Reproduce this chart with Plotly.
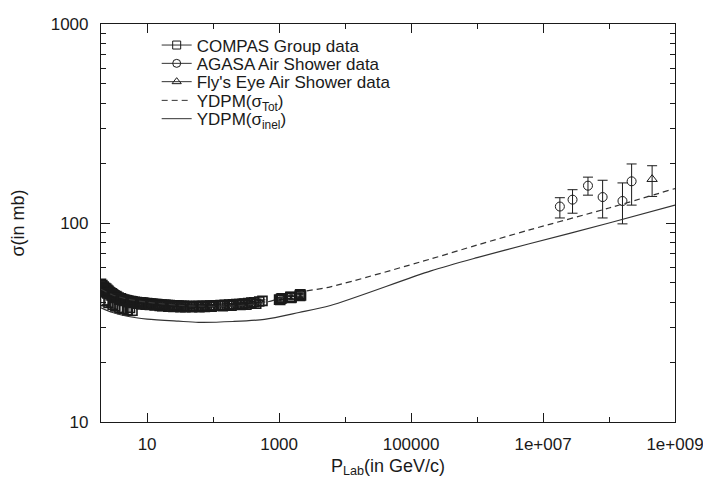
import plotly.graph_objects as go
import math

# ---------------- data ----------------
compas_p = [2.0, 2.0, 2.05, 2.1, 2.1, 2.2, 2.2, 2.3, 2.4, 2.4, 2.5, 2.6, 2.7, 2.8, 2.9,
            3.0, 3.1, 3.2, 3.4, 3.5, 3.7, 3.9, 4.0, 4.2, 4.5, 4.8, 5.0, 5.3, 5.7, 6.0,
            6.5, 7.0, 7.5, 8.0, 8.5, 9.0, 10.0, 10.7, 11.5, 12.3, 13.3, 14.2, 15.0, 16.5,
            18.0, 19.0, 20.5, 22.0, 24.0, 26.0, 28.0, 30.0, 33.0, 36.0, 40.0, 45.0, 50.0,
            56.0, 60.0, 66.0, 70.0, 80.0, 90.0, 100.0, 110.0, 120.0, 130.0, 150.0, 175.0,
            200.0, 225.0, 250.0, 280.0, 300.0, 340.0, 380.0, 420.0, 500.0, 560.0,
            1000.0, 1070.0, 1100.0, 1480.0, 1500.0, 1550.0, 2060.0, 2100.0, 2150.0,
            2.3, 2.6, 3.0, 3.3, 3.8, 4.2, 5.0, 5.5, 6.0,
            2.15, 2.5, 2.9, 3.3, 3.8, 4.4, 5.2, 6.2, 7.2, 8.2, 9.5, 11.0, 13.0, 15.5,
            17.0, 21.0, 25.0, 32.0, 38.0, 48.0, 62.0, 75.0, 95.0, 140.0, 190.0, 260.0,
            320.0, 450.0, 1040.0, 1520.0, 2080.0]
compas_sigma = [49.5, 47.0, 48.5, 48.8, 46.0, 48.0, 45.6, 47.2, 46.8, 45.0, 46.2, 45.6, 45.0, 44.6, 44.3,
                44.0, 43.6, 43.3, 42.9, 42.6, 42.2, 41.9, 41.8, 41.5, 41.3, 41.0, 40.9, 40.7, 40.5, 40.4,
                40.2, 40.1, 40.0, 39.9, 39.8, 39.7, 39.6, 39.5, 39.4, 39.3, 39.2, 39.1, 39.0, 38.9,
                38.8, 38.8, 38.7, 38.7, 38.6, 38.6, 38.5, 38.5, 38.4, 38.4, 38.3, 38.3, 38.2,
                38.3, 38.3, 38.3, 38.4, 38.4, 38.5, 38.5, 38.6, 38.6, 38.7, 38.8, 38.9,
                39.0, 39.1, 39.2, 39.3, 39.4, 39.6, 39.8, 40.0, 40.3, 40.6,
                41.2, 41.6, 41.9, 42.4, 42.6, 42.2, 43.4, 43.8, 43.2,
                40.5, 39.6, 38.8, 38.1, 37.4, 37.0, 36.4, 37.4, 36.2,
                46.8, 44.4, 43.2, 42.0, 41.2, 40.6, 40.0, 39.6, 39.3, 39.0, 38.9, 38.7, 38.5, 38.3,
                38.2, 38.0, 37.9, 37.8, 37.8, 37.7, 37.8, 37.9, 38.0, 38.2, 38.4, 38.7,
                38.9, 39.3, 41.0, 42.0, 43.0]
compas_err = [1.0, 1.0, 0.8, 0.8, 1.0, 0.8, 1.0, 0.8, 0.8, 1.0, 0.8, 0.8, 0.8, 0.7, 0.7,
              0.7, 0.7, 0.6, 0.6, 0.6, 0.6, 0.6, 0.6, 0.5, 0.5, 0.5, 0.5, 0.5, 0.5, 0.5,
              0.5, 0.5, 0.5, 0.5, 0.5, 0.5, 0.5, 0.5, 0.5, 0.5, 0.5, 0.5, 0.5, 0.5,
              0.5, 0.5, 0.5, 0.5, 0.5, 0.5, 0.5, 0.5, 0.5, 0.5, 0.5, 0.5, 0.5,
              0.5, 0.5, 0.5, 0.5, 0.5, 0.5, 0.5, 0.5, 0.5, 0.5, 0.5, 0.5,
              0.5, 0.5, 0.5, 0.5, 0.5, 0.5, 0.5, 0.5, 0.5, 0.5,
              0.6, 0.6, 0.6, 0.7, 0.7, 0.7, 0.8, 0.8, 0.8,
              1.5, 1.5, 1.5, 1.8, 1.8, 2.0, 2.0, 1.8, 2.0,
              0.8, 0.7, 0.6, 0.6, 0.6, 0.5, 0.5, 0.5, 0.5, 0.5, 0.5, 0.5, 0.5, 0.5,
              0.5, 0.5, 0.5, 0.5, 0.5, 0.5, 0.5, 0.5, 0.5, 0.5, 0.5, 0.5,
              0.5, 0.5, 0.6, 0.7, 0.8]

agasa_p = [1.8e7, 2.8e7, 4.8e7, 8.0e7, 1.6e8, 2.2e8]
agasa_sigma = [121, 131, 154, 135, 129, 162]
agasa_err_up = [13, 16, 16, 29, 30, 36]
agasa_err_down = [15, 19, 16, 29, 30, 39]

flyseye_p = [4.5e8]
flyseye_sigma = [166]
flyseye_err_up = [28]
flyseye_err_down = [30]

ydpm_p = [2, 3, 5, 10, 30, 60, 200, 600, 2000, 6000, 2e5, 1e6, 6e6, 1e8, 1e9]
ydpm_tot = [46.5, 43.5, 41.5, 40.0, 38.6, 38.2, 38.3, 39.8, 44.8, 47.8, 66.0, 77.5, 92.0, 119.0, 149.0]
ydpm_inel = [37.5, 35.5, 34.0, 32.9, 32.1, 31.7, 32.0, 32.8, 35.5, 38.5, 57.5, 67.0, 78.4, 100.0, 123.0]

x_tickvals = [10, 1e3, 1e5, 1e7, 1e9]
x_ticktext = ["10", "1000", "100000", "1e+007", "1e+009"]
x_minor = [100, 1e4, 1e6, 1e8]
y_tickvals = [10, 100, 1000]
y_ticktext = ["10", "100", "1000"]
y_minor = [20, 30, 40, 50, 60, 70, 80, 90, 200, 300, 400, 500, 600, 700, 800, 900]

legend_names = ["COMPAS Group data", "AGASA Air Shower data", "Fly's Eye Air Shower data",
                "YDPM(σ<sub>Tot</sub>)", "YDPM(σ<sub>inel</sub>)"]

# ---------------- figure ----------------
INK = "#1a1a1a"
FONT = "Liberation Sans, Arial, Helvetica, sans-serif"

fig = go.Figure()

fig.add_trace(go.Scatter(
    x=compas_p, y=compas_sigma, mode="markers", showlegend=False,
    marker=dict(symbol="square-open", size=9, color=INK, line=dict(width=1.6, color=INK)),
    error_y=dict(type="data", array=compas_err, color=INK, thickness=1, width=3)))
fig.add_trace(go.Scatter(
    x=agasa_p, y=agasa_sigma, mode="markers", showlegend=False,
    marker=dict(symbol="circle-open", size=9, color=INK, line=dict(width=1, color=INK)),
    error_y=dict(type="data", array=agasa_err_up, arrayminus=agasa_err_down,
                 color=INK, thickness=1, width=5)))
fig.add_trace(go.Scatter(
    x=flyseye_p, y=flyseye_sigma, mode="markers", showlegend=False,
    marker=dict(symbol="triangle-up-open", size=9, color=INK, line=dict(width=1, color=INK)),
    error_y=dict(type="data", array=flyseye_err_up, arrayminus=flyseye_err_down,
                 color=INK, thickness=1, width=5)))
fig.add_trace(go.Scatter(
    x=ydpm_p, y=ydpm_tot, mode="lines", showlegend=False,
    line=dict(color="#333", width=1.2, dash="6px,4px", shape="spline", smoothing=0.8)))
fig.add_trace(go.Scatter(
    x=ydpm_p, y=ydpm_inel, mode="lines", showlegend=False,
    line=dict(color="#333", width=1.2, shape="spline", smoothing=0.8)))

# legend-only entries, one small legend per row
styles = [("lines+markers", "square-open", "solid"),
          ("lines+markers", "circle-open", "solid"),
          ("lines+markers", "triangle-up-open", "solid"),
          ("lines", None, "6px,4px"),
          ("lines", None, "solid")]
row_y = [0.946, 0.900, 0.854, 0.807, 0.761]
legend_layout = {}
for i, (name, (mode, sym, dash)) in enumerate(zip(legend_names, styles)):
    lid = "legend" if i == 0 else f"legend{i + 1}"
    kw = {}
    if sym:
        kw["marker"] = dict(symbol=sym, size=8, color=INK, line=dict(width=1, color=INK))
    fig.add_trace(go.Scatter(x=[None], y=[None], mode=mode, name=name, legend=lid,
                             line=dict(color="#333", width=1, dash=dash), **kw))
    legend_layout[lid] = dict(x=0.097, y=row_y[i], xanchor="left", yanchor="middle",
                              bgcolor="rgba(0,0,0,0)", font=dict(size=17, family=FONT, color=INK),
                              borderwidth=0)

fig.update_layout(
    width=703, height=477,
    margin=dict(l=93, r=34, t=7, b=63),
    paper_bgcolor="white", plot_bgcolor="white",
    font=dict(family=FONT, size=17, color=INK),
    showlegend=True,
    **legend_layout,
)
fig.update_xaxes(
    type="log", range=[math.log10(2), 9],
    tickvals=x_tickvals, ticktext=x_ticktext,
    ticks="inside", ticklen=9, tickcolor=INK, tickwidth=1,
    showline=True, linecolor=INK, linewidth=1.2, mirror="allticks",
    showgrid=False, zeroline=False, ticklabelstandoff=6, ticklabeloverflow="allow",
    minor=dict(tickvals=x_minor, ticks="inside", ticklen=5, tickcolor=INK, showgrid=False),
    title=dict(text="P<sub>Lab</sub>(in GeV/c)", standoff=6, font=dict(size=18)),
)
fig.update_yaxes(
    type="log", range=[1, 3],
    tickvals=y_tickvals, ticktext=y_ticktext,
    ticks="inside", ticklen=9, tickcolor=INK, tickwidth=1,
    showline=True, linecolor=INK, linewidth=1.2, mirror="allticks",
    showgrid=False, zeroline=False, ticklabelstandoff=8, ticklabeloverflow="allow",
    minor=dict(tickvals=y_minor, ticks="inside", ticklen=5, tickcolor=INK, showgrid=False),
    title=dict(text="σ(in mb)", standoff=22, font=dict(size=18)),
)

fig.write_html("out.html")
